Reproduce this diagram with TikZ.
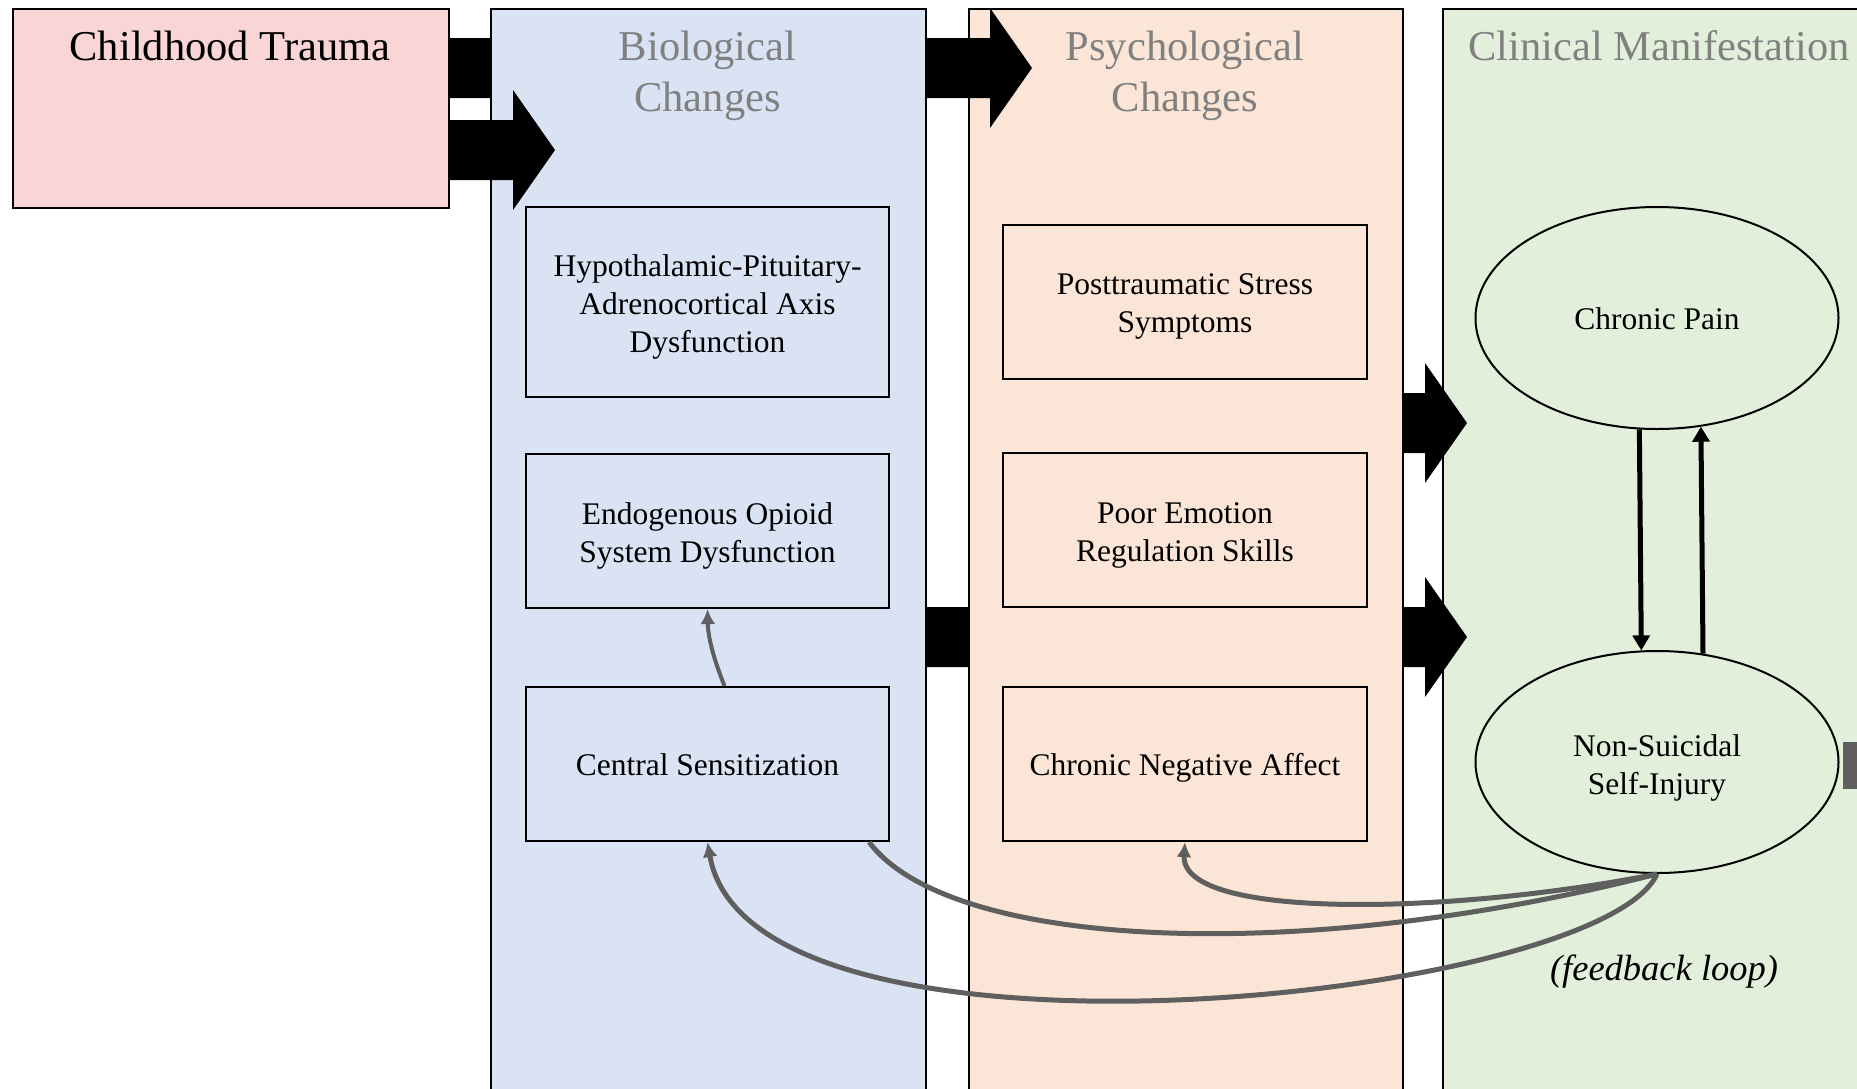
\documentclass[tikz,border=0pt]{standalone}
\usepackage{fontspec}
\setmainfont{Liberation Serif}
\usetikzlibrary{calc,arrows.meta,shapes.geometric}
\definecolor{biofill}{HTML}{DAE3F3}
\definecolor{psyfill}{HTML}{FBE5D6}
\definecolor{clinfill}{HTML}{E2EFDA}
\definecolor{ctfill}{HTML}{F9D5D6}
\definecolor{fbgray}{HTML}{5F5F5F}
\definecolor{titlegray}{HTML}{808080}
\newcommand{\bxfont}{\fontsize{31.5}{38}\selectfont}
\newcommand{\ttlfont}{\fontsize{42.5}{51}\selectfont}
\newcommand{\fblfont}{\fontsize{36.5}{44}\selectfont\itshape}
\newcommand{\sh}[1]{\rule{0pt}{#1pt}}
\newcommand{\blockarrow}[2]{%
  \fill[black] let \p1=(#1), \p2=(#2) in
  (\x1,\y1+30pt) -- (\x2-42pt,\y1+30pt) -- (\x2-42pt,\y1+60pt) -- (\x2,\y1)
  -- (\x2-42pt,\y1-60pt) -- (\x2-42pt,\y1-30pt) -- (\x1,\y1-30pt) -- cycle;}
\pgfdeclarelayer{lbg}
\pgfdeclarelayer{lzero}
\pgfdeclarelayer{lone}
\pgfdeclarelayer{ltwo}
\pgfdeclarelayer{lthree}
\pgfdeclarelayer{lfour}
\pgfsetlayers{lbg,lzero,lone,ltwo,lthree,lfour,main}
\begin{document}
\begin{tikzpicture}[x=1pt,y=-1pt,
  column/.style={draw=black, line width=2pt, inner sep=0pt, rectangle, anchor=north west},
  box/.style={draw=black, line width=2.2pt, align=center, font=\bxfont, inner sep=0pt, minimum width=363, minimum height=154},
  ell/.style={draw=black, line width=2pt, ellipse, fill=clinfill, align=center, font=\bxfont, inner sep=0pt, minimum width=363, minimum height=222},
  title/.style={text=titlegray, font=\ttlfont, align=center},
  fb/.style={draw=fbgray, line width=5pt, -{Latex[length=15pt,width=15pt]}},
  fbline/.style={draw=fbgray, line width=5pt},
  vert/.style={draw=black, line width=5pt, -{Triangle[length=15pt,width=17pt]}}]
\useasboundingbox (0,0) rectangle (1857,1088);
\begin{pgfonlayer}{lbg}
\fill[white] (0,0) rectangle (1857,1088);
\end{pgfonlayer}

% columns and hidden arrows (layered)
\begin{pgfonlayer}{lzero}
\node[column, fill=clinfill, minimum width=435, minimum height=1120] (clin) at (1442,8) {};
\end{pgfonlayer}
\begin{pgfonlayer}{ltwo}
\node[column, fill=psyfill, minimum width=434, minimum height=1120] (psy) at (968,8) {};
\end{pgfonlayer}
\begin{pgfonlayer}{lfour}
\node[column, fill=biofill, minimum width=435, minimum height=1120] (bio) at (490,8) {};
\end{pgfonlayer}
\node[column, fill=ctfill, minimum width=436, minimum height=199] (ct) at (12,8) {};

\coordinate (a1s) at (ct.east |- 0,68);
\coordinate (a1t) at (1032,68);
\coordinate (a2s) at (ct.east |- 0,150);
\coordinate (a2t) at (555,150);
\coordinate (a3s) at (bio.east |- 0,637);
\coordinate (a3t) at (1467,637);
\coordinate (a4s) at (psy.east |- 0,423);
\coordinate (a4t) at (1467,423);

\begin{pgfonlayer}{lone}
\blockarrow{a3s}{a3t}
\end{pgfonlayer}
\begin{pgfonlayer}{lthree}
\blockarrow{a1s}{a1t}
\end{pgfonlayer}
\blockarrow{a2s}{a2t}
\blockarrow{a4s}{a4t}

% titles
\node[font=\ttlfont] (ctt) at (230,46) {Childhood Trauma};
\node[title] (biot) at (707.5,76) {Biological\\Changes};
\node[title] (psyt) at (1185,76) {Psychological\\Changes};
\node[title] (clint) at (1659,46) {Clinical Manifestation};

% boxes
\node[box, minimum height=190] (hpa) at (707.5,302) {\sh{32}Hypothalamic-Pituitary-\\Adrenocortical Axis\\Dysfunction};
\node[box] (eos) at (707.5,531) {\sh{32}Endogenous Opioid\\System Dysfunction};
\node[box] (cs) at (707.5,764) {\sh{24}Central Sensitization};
\node[box, minimum width=364] (ptss) at (1185,302) {\sh{30}Posttraumatic Stress\\Symptoms};
\node[box, minimum width=364] (pers) at (1185,530) {\sh{32}Poor Emotion\\Regulation Skills};
\node[box, minimum width=364] (cna) at (1185,764) {\sh{29}Chronic Negative Affect};

% ellipses
\node[ell] (cp) at (1657,318) {\sh{24}Chronic Pain};
\node[ell] (nssi) at (1657,762) {\sh{34}Non-Suicidal\\Self-Injury};
\draw[vert] (cp.261.8) -- (nssi.98.2);
\draw[vert] (nssi.67.3) -- (cp.292.7);

% partial arrow at right edge
\fill[fbgray] (1843,742) rectangle (1875,789);

% feedback curves
\draw[fb, line width=4pt] ($(cs.north)+(17,0)$) .. controls (712,655) and (708,635) .. (eos.south);
\draw[fb] (nssi.south) .. controls (1450,915) and (1180,920) .. (cna.south);
\draw[fbline] ($(cs.south east)+(-21,0)$) .. controls (950,950) and (1300,965) .. (nssi.south);
\draw[fb] (nssi.south) .. controls (1600,1000) and (750,1090) .. (cs.south);
\node[font=\fblfont] (fbl) at (1664,972) {(feedback loop)};
\end{tikzpicture}
\end{document}
